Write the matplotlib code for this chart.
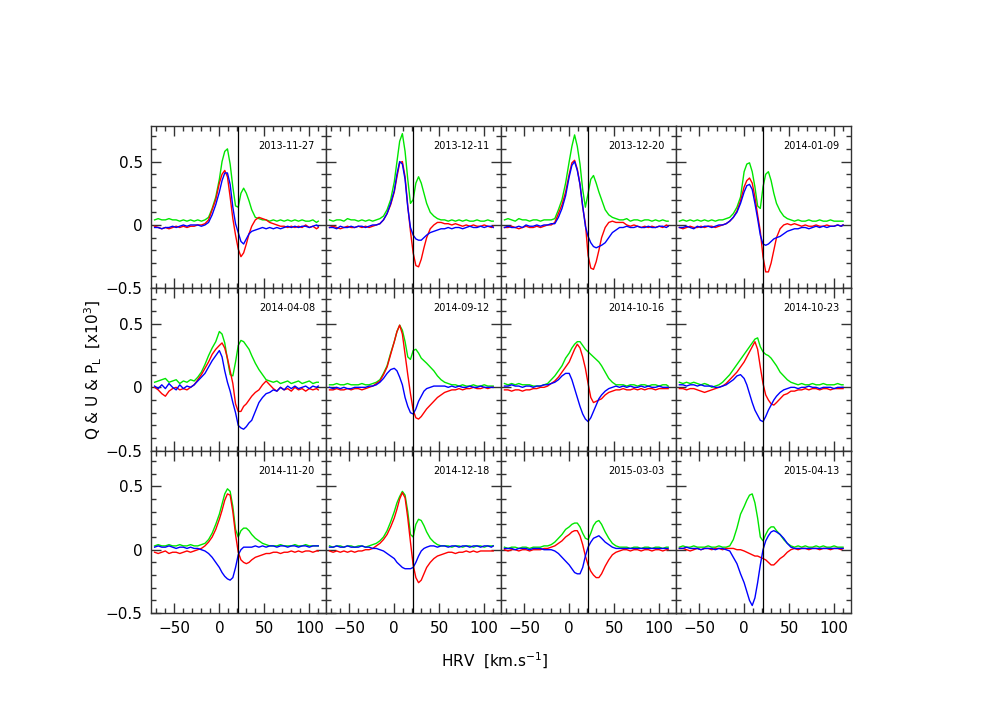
import numpy as np
import matplotlib
matplotlib.use("Agg")
from matplotlib import pyplot as plt
from matplotlib.ticker import MultipleLocator, FuncFormatter

# velocity grid (km/s), shared by all panels
hrv = ([-72, -68, -64, -60, -56, -52, -48, -44, -40, -36, -32, -28, -24, -20, -16, -12, -8, -4]
       + [0, 3, 6, 9, 12, 15, 18, 21, 24, 27, 30, 33, 36]
       + [40, 44, 48, 52, 56, 60, 64, 68, 72, 76, 80, 84, 88, 92, 96, 100, 104, 108, 110])

dates = ["2013-11-27", "2013-12-11", "2013-12-20", "2014-01-09",
         "2014-04-08", "2014-09-12", "2014-10-16", "2014-10-23",
         "2014-11-20", "2014-12-18", "2015-03-03", "2015-04-13"]

# values below are in units of 0.01 (x10^3 scale on the plot)
# 2013-11-27
pl_1 = [4,5,4,4,5,4,4,3,4,3,4,3,4,3,4,6,13,22] + [36,50,58,60,48,30,15,14,25,29,25,19,12] + [6,5,4,4,3,4,3,4,3,4,3,4,3,4,3,3,4,2,3]
q_1 = [-1,-2,-3,-2,-3,-2,-1,-2,-1,-2,-1,-1,0,0,1,4,12,20] + [33,40,43,38,22,5,-8,-19,-25,-22,-15,-7,-1] + [4,6,5,4,2,1,0,-1,-1,-2,-1,-2,-1,-2,0,-2,-1,-3,-2]
u_1 = [-2,-2,-3,-2,-2,-1,-2,-1,0,-1,0,0,0,-1,0,2,8,16] + [26,35,41,41,32,14,1,-6,-13,-15,-11,-7,-5] + [-4,-3,-2,-3,-2,-3,-2,-3,-2,-1,-2,-1,-2,-1,-1,-2,-1,0,-1]
# 2013-12-11
pl_2 = [4,3,4,4,3,5,4,4,3,4,3,4,3,4,5,7,12,20] + [34,50,66,72,58,36,17,20,33,38,33,25,17] + [10,7,5,4,4,3,4,3,4,3,4,3,3,4,3,3,4,3,3]
q_2 = [-2,-1,-2,-3,-2,-1,-2,-2,-1,-2,-1,-2,-1,0,1,4,9,16] + [26,38,49,50,38,15,-5,-22,-32,-33,-27,-18,-10] + [-3,0,2,2,1,1,0,1,0,-1,0,-1,0,-1,-1,0,-1,-2,-1]
u_2 = [-2,-2,-3,-1,-2,-2,-1,-2,-1,-1,-2,-1,0,0,1,4,9,17] + [27,40,50,48,36,14,-2,-8,-11,-12,-12,-10,-8] + [-6,-5,-4,-3,-3,-2,-3,-2,-2,-3,-2,-1,-2,-2,-1,-2,-1,-1,-2]
# 2013-12-20
pl_3 = [4,5,4,3,5,4,4,3,4,4,3,4,4,4,5,12,20,33] + [50,62,71,62,48,28,14,25,36,39,33,26,20] + [12,8,6,5,4,4,5,3,4,4,3,4,4,3,4,3,4,3,3]
q_3 = [-2,-2,-1,-2,-3,-2,-1,-2,-2,-1,-2,-1,0,0,2,9,16,26] + [40,49,51,44,32,14,1,-24,-34,-35,-29,-20,-10] + [-2,2,3,2,2,2,0,-1,0,-1,-2,-1,-2,-1,-2,-1,-2,0,-1]
u_3 = [-2,-1,-2,-2,-1,-2,0,-1,-1,0,-1,0,0,1,1,6,13,23] + [38,47,50,43,32,15,-1,-9,-14,-17,-18,-17,-16] + [-14,-10,-6,-4,-2,-2,-1,-2,-2,-1,-2,-2,-1,-2,-2,-1,-1,-2,-1]
# 2014-01-09
pl_4 = [3,4,3,4,3,4,3,4,3,4,3,4,4,5,6,9,14,22] + [42,48,49,42,30,15,13,30,40,42,35,25,17] + [11,7,5,4,3,4,3,3,4,3,3,4,3,3,4,3,3,3,3]
q_4 = [-2,-3,-2,-1,-2,-2,-1,-2,-1,-1,-2,-1,0,1,3,6,11,19] + [30,35,37,33,22,8,-5,-25,-37,-37,-30,-20,-10] + [-3,0,1,0,1,0,-1,0,-1,-1,0,-1,-1,0,-1,-1,0,-1,0]
u_4 = [-2,-2,-1,-2,-3,-1,-2,-1,-1,-2,-1,0,0,1,3,6,10,17] + [26,31,32,28,17,5,-8,-15,-16,-15,-13,-11,-10] + [-9,-7,-5,-4,-3,-3,-2,-2,-3,-2,-1,-2,-1,-2,-1,-1,0,-1,0]
# 2014-04-08
pl_5 = [4,5,6,7,4,5,6,3,5,4,6,5,8,12,18,25,31,36] + [44,42,35,22,10,9,20,33,37,36,33,30,25] + [19,14,10,6,5,4,5,3,4,5,3,4,5,3,4,5,3,4,4]
q_5 = [0,-2,-5,-7,-3,-1,0,-2,-1,-2,0,2,6,10,15,20,26,30] + [33,35,31,23,13,3,-13,-19,-19,-15,-13,-10,-7] + [-4,-2,2,5,2,-1,-3,0,-2,-1,-3,0,-2,-1,-3,-1,-2,-1,-2]
u_5 = [1,-1,2,-1,3,0,-2,2,-1,1,0,2,5,8,11,16,21,25] + [29,24,13,4,-3,-12,-20,-30,-32,-33,-31,-28,-26] + [-19,-12,-8,-5,-4,-2,-3,0,-2,1,-1,1,-1,0,1,-1,1,0,1]
# 2014-09-12
pl_6 = [2,2,3,2,2,3,2,2,2,3,2,2,3,4,6,11,17,27] + [36,44,49,45,36,24,22,29,30,27,23,21,19] + [16,13,9,6,4,3,2,2,1,2,1,1,2,1,1,2,1,1,1]
q_6 = [-2,-2,-1,-2,-2,-1,-2,-1,-1,-2,-1,0,1,3,5,10,16,26] + [36,44,49,42,26,10,-5,-18,-24,-25,-23,-20,-17] + [-14,-11,-8,-6,-4,-3,-2,-2,-1,-2,-1,-1,0,-1,-1,0,-1,0,0]
u_6 = [0,-1,0,-1,0,-1,-1,0,0,0,0,1,1,2,4,7,11,14] + [15,13,8,2,-8,-15,-20,-21,-17,-11,-7,-3,-1] + [0,1,1,1,1,0,1,0,1,0,0,1,0,0,1,0,0,0,0]
# 2014-10-16
pl_7 = [3,2,3,2,3,2,2,2,1,1,1,2,3,6,9,13,17,23] + [27,31,34,36,36,33,30,28,26,24,22,20,17] + [12,7,4,2,2,2,1,2,2,1,2,2,1,2,2,1,2,2,1]
q_7 = [-2,-2,-3,-2,-2,-3,-2,-2,-1,-1,0,0,1,3,5,8,12,16] + [20,25,30,34,31,24,15,3,-8,-12,-11,-10,-9] + [-6,-4,-3,-2,-2,-1,-2,-2,-1,-2,-1,-2,-1,-1,-2,-1,-1,-1,-1]
u_7 = [1,1,2,1,1,0,1,1,0,1,1,2,2,3,4,6,9,11] + [11,6,-1,-8,-15,-21,-25,-27,-24,-19,-14,-9,-6] + [-3,-1,0,1,0,1,0,1,0,0,1,0,1,0,0,1,0,0,0]
# 2014-10-23
pl_8 = [4,3,4,3,4,3,2,3,2,0,1,2,4,7,10,14,18,22] + [26,29,32,35,38,39,32,28,26,25,23,20,17] + [12,9,6,4,3,2,3,2,2,3,2,2,3,2,2,2,3,2,2]
q_8 = [-1,-1,-2,-1,-1,-2,-3,-4,-3,-2,-1,0,1,3,6,9,12,16] + [20,24,28,32,36,30,16,3,-6,-10,-13,-14,-12] + [-9,-6,-5,-3,-3,-2,-2,-1,-2,-1,-1,-2,-1,-1,-2,-1,-1,-1,-1]
u_8 = [2,2,1,2,2,1,2,1,1,1,0,0,1,2,4,6,9,10] + [7,2,-5,-12,-18,-22,-26,-27,-23,-18,-14,-10,-7] + [-4,-2,-1,0,0,-1,0,0,1,0,0,-1,0,0,0,-1,0,0,0]
# 2014-11-20
pl_9 = [3,4,3,3,4,3,3,4,3,3,4,3,3,4,5,8,13,20] + [28,36,44,48,46,34,16,10,15,17,17,15,12] + [9,7,5,4,3,3,3,4,3,3,3,4,3,3,4,3,3,3,3]
q_9 = [-2,-3,-2,-1,-3,-2,-2,-3,-2,-1,-2,-1,0,1,3,6,10,16] + [24,31,39,44,43,30,12,-2,-8,-10,-11,-10,-8] + [-6,-5,-4,-3,-3,-2,-2,-3,-2,-2,-1,-2,-1,-2,-1,-1,-2,-1,-1]
u_9 = [2,3,2,2,3,2,1,2,2,1,2,1,1,0,-1,-3,-6,-10] + [-14,-18,-21,-23,-24,-22,-14,-4,0,2,2,2,2] + [3,2,3,2,3,3,2,3,3,2,3,3,2,3,3,2,3,3,3]
# 2014-12-18
pl_10 = [3,2,3,3,2,3,3,2,3,3,2,3,4,5,7,10,15,22] + [30,37,42,46,43,30,12,10,20,24,23,19,14] + [9,6,4,3,3,3,2,3,3,2,3,3,2,3,3,2,3,3,3]
q_10 = [-1,-2,-1,-2,-1,-2,-1,-2,-1,-1,0,0,1,3,5,8,12,18] + [25,32,40,45,41,25,6,-12,-22,-26,-24,-19,-14] + [-10,-7,-5,-4,-3,-2,-2,-3,-2,-2,-1,-2,-1,-2,-1,-1,-1,-1,-1]
u_10 = [2,2,3,2,2,3,2,2,2,3,2,2,1,1,0,-1,-3,-5] + [-7,-10,-12,-14,-15,-15,-15,-14,-10,-5,-1,1,2] + [3,3,2,3,3,2,3,3,2,3,3,2,3,3,2,3,3,2,3]
# 2015-03-03
pl_11 = [2,1,2,2,1,2,2,1,2,2,2,3,3,4,6,9,12,16] + [18,20,21,21,18,13,9,8,13,19,22,23,20] + [14,9,5,3,2,2,2,1,2,2,1,2,2,1,2,2,1,2,2]
q_11 = [0,-1,0,0,-1,0,0,-1,0,0,0,1,1,2,3,5,7,10] + [12,14,15,15,11,4,-5,-12,-17,-20,-22,-22,-19] + [-13,-8,-4,-2,-1,0,0,-1,0,0,-1,0,0,-1,0,0,-1,0,0]
u_11 = [1,1,1,0,1,1,1,0,1,1,1,0,0,0,-1,-3,-6,-9] + [-12,-15,-18,-19,-19,-14,-5,2,6,9,10,11,9] + [6,4,2,1,1,1,1,1,1,1,1,1,1,1,1,1,1,1,1]
# 2015-04-13
pl_12 = [2,3,2,2,3,2,2,2,3,2,2,3,2,2,3,8,17,28] + [34,39,43,44,37,25,10,7,12,16,18,18,15] + [12,8,5,3,2,3,2,3,2,2,3,2,3,2,2,3,2,2,2]
q_12 = [1,1,0,-1,0,1,0,1,1,0,1,1,0,1,1,1,0,0] + [-1,-2,-3,-4,-5,-5,-6,-7,-8,-10,-12,-12,-10] + [-7,-5,-2,0,1,0,1,1,0,1,1,0,1,1,0,1,1,0,1]
u_12 = [1,1,2,1,1,1,0,1,1,1,0,1,1,0,-1,-6,-11,-19] + [-26,-33,-40,-44,-38,-26,-12,0,7,11,14,15,14] + [12,9,5,2,1,1,1,1,1,1,1,1,1,1,1,1,1,1,1]

pl_all = [pl_1, pl_2, pl_3, pl_4, pl_5, pl_6, pl_7, pl_8, pl_9, pl_10, pl_11, pl_12]
q_all = [q_1, q_2, q_3, q_4, q_5, q_6, q_7, q_8, q_9, q_10, q_11, q_12]
u_all = [u_1, u_2, u_3, u_4, u_5, u_6, u_7, u_8, u_9, u_10, u_11, u_12]

v_ref = 21  # radial velocity marker

x = np.array(hrv)

fig, axes = plt.subplots(3, 4, sharex=True, sharey=True, figsize=(10.02, 7.08), dpi=100)
plt.subplots_adjust(left=0.1507, right=0.849, top=0.822, bottom=0.134, wspace=0, hspace=0)


def minus_fmt(val, pos):
    s = "%g" % round(val, 2)
    return s.replace("-", "\u2212")


for k in range(12):
    ax = axes[k // 4][k % 4]
    ax.plot(x, np.array(pl_all[k]) / 100, color="#00e600", lw=1)
    ax.plot(x, np.array(q_all[k]) / 100, color="#ff0000", lw=1)
    ax.plot(x, np.array(u_all[k]) / 100, color="#0000ff", lw=1)
    ax.axvline(v_ref, color="black", lw=0.9)
    ax.text(0.937, 0.877, dates[k], transform=ax.transAxes, ha="right", va="center", fontsize=7)
    ax.set_xlim(-76, 118.5)
    ax.set_ylim(-0.5, 0.78)
    ax.xaxis.set_major_locator(MultipleLocator(50))
    ax.xaxis.set_minor_locator(MultipleLocator(10))
    ax.yaxis.set_major_locator(MultipleLocator(0.5))
    ax.yaxis.set_minor_locator(MultipleLocator(0.1))
    ax.yaxis.set_major_formatter(FuncFormatter(minus_fmt))
    ax.xaxis.set_major_formatter(FuncFormatter(minus_fmt))
    ax.tick_params(which="both", direction="in", top=True, right=True, color="#333333", width=1)
    ax.tick_params(which="major", length=7, labelsize=11, pad=6)
    ax.tick_params(which="minor", length=3.5)
    for sp in ax.spines.values():
        sp.set_color("#333333")
        sp.set_linewidth(1)

fig.text(0.093, 0.478, "Q & U & P$_\\mathregular{L}$  [x10$^\\mathregular{3}$]", rotation=90,
         ha="center", va="center", fontsize=11)
fig.text(0.494, 0.067, "HRV  [km.s$^\\mathregular{-1}$]", ha="center", va="center", fontsize=11)

plt.savefig("out.png", dpi=100)
